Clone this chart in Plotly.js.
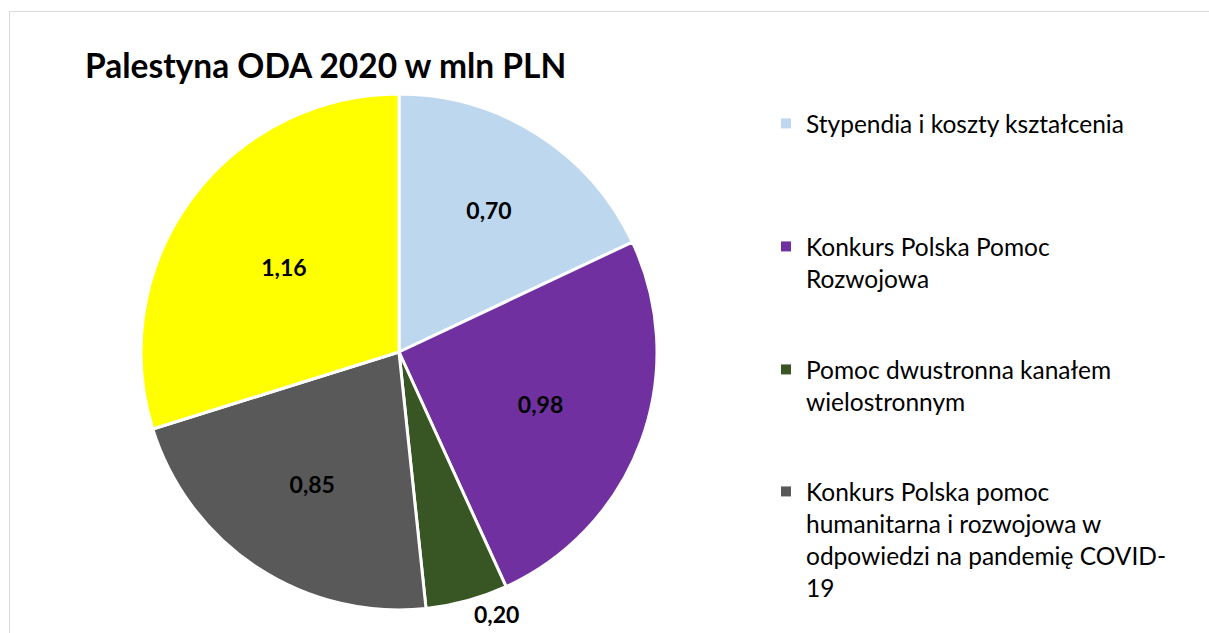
<!DOCTYPE html>
<html>
<head>
<meta charset="utf-8">
<script src="https://cdn.plot.ly/plotly-3.0.1.min.js"></script>
<style>
  html, body { margin: 0; padding: 0; background: #fff; }
  #chart { width: 1209px; height: 633px; }
</style>
</head>
<body>
<div id="chart"></div>
<script>
const categories = [
  'Stypendia i koszty kształcenia',
  'Konkurs Polska Pomoc Rozwojowa',
  'Pomoc dwustronna kanałem wielostronnym',
  'Konkurs Polska pomoc humanitarna i rozwojowa w odpowiedzi na pandemię COVID-19',
  'Pozostałe'
];
const values = [0.70, 0.98, 0.20, 0.85, 1.16];
const colors = ['#BDD7EE', '#7030A0', '#375623', '#595959', '#FFFF00'];
const textPositions = ['inside', 'inside', 'outside', 'inside', 'inside'];

// legend in the source only shows the first four entries, wrapped like Excel does
const legendLabels = [
  'Stypendia i koszty kształcenia',
  'Konkurs Polska Pomoc<br>Rozwojowa',
  'Pomoc dwustronna kanałem<br>wielostronnym',
  'Konkurs Polska pomoc<br>humanitarna i rozwojowa w<br>odpowiedzi na pandemię COVID-<br>19'
];
const legendTops = [101, 224, 347, 469];

const W = 1209, H = 633;
const font = 'Lato, "Open Sans", sans-serif';

const pie = {
  type: 'pie',
  labels: categories,
  values: values,
  sort: false,
  direction: 'clockwise',
  rotation: 0,
  marker: { colors: colors, line: { color: '#ffffff', width: 3 } },
  texttemplate: '%{value:.2f}',
  textposition: textPositions,
  insidetextorientation: 'horizontal',
  textfont: { family: font, size: 23, color: '#000000', weight: 'bold' },
  outsidetextfont: { family: font, size: 23, color: '#000000', weight: 'bold' },
  hoverinfo: 'label+value+percent',
  showlegend: false,
  domain: { x: [141 / W, 657 / W], y: [(H - 610) / H, (H - 94) / H] }
};

const legendTraces = legendLabels.map((name, i) => ({
  type: 'scatter',
  mode: 'markers',
  x: [null],
  y: [null],
  name: name,
  marker: { symbol: 'square', size: 10, color: colors[i] },
  legend: i === 0 ? 'legend' : 'legend' + (i + 1),
  hoverinfo: 'skip'
}));

const layout = {
  width: W,
  height: H,
  margin: { t: 0, l: 0, r: 0, b: 0 },
  paper_bgcolor: '#ffffff',
  plot_bgcolor: 'rgba(0,0,0,0)',
  separators: ', ',
  font: { family: font, color: '#000000' },
  title: {
    text: 'Palestyna ODA 2020 w mln PLN',
    font: { family: font, size: 33.5, color: '#000000', weight: 'bold' },
    x: 85 / W,
    xanchor: 'left',
    y: 1 - 66 / H,
    yanchor: 'middle'
  },
  xaxis: { visible: false },
  yaxis: { visible: false },
  shapes: [{
    type: 'rect', xref: 'paper', yref: 'paper',
    x0: 9.5 / W, x1: 1.01, y0: -0.01, y1: 1 - 11.5 / H,
    line: { color: '#D9D9D9', width: 1 }
  }]
};

legendTops.forEach((top, i) => {
  const key = i === 0 ? 'legend' : 'legend' + (i + 1);
  layout[key] = {
    x: 766 / W, xanchor: 'left',
    y: 1 - top / H, yanchor: 'top',
    valign: 'top',
    bgcolor: 'rgba(0,0,0,0)',
    font: { family: font, size: 24.5, color: '#000000' },
    itemwidth: 30
  };
});

Plotly.newPlot('chart', [pie, ...legendTraces], layout, { displayModeBar: false });
</script>
</body>
</html>
